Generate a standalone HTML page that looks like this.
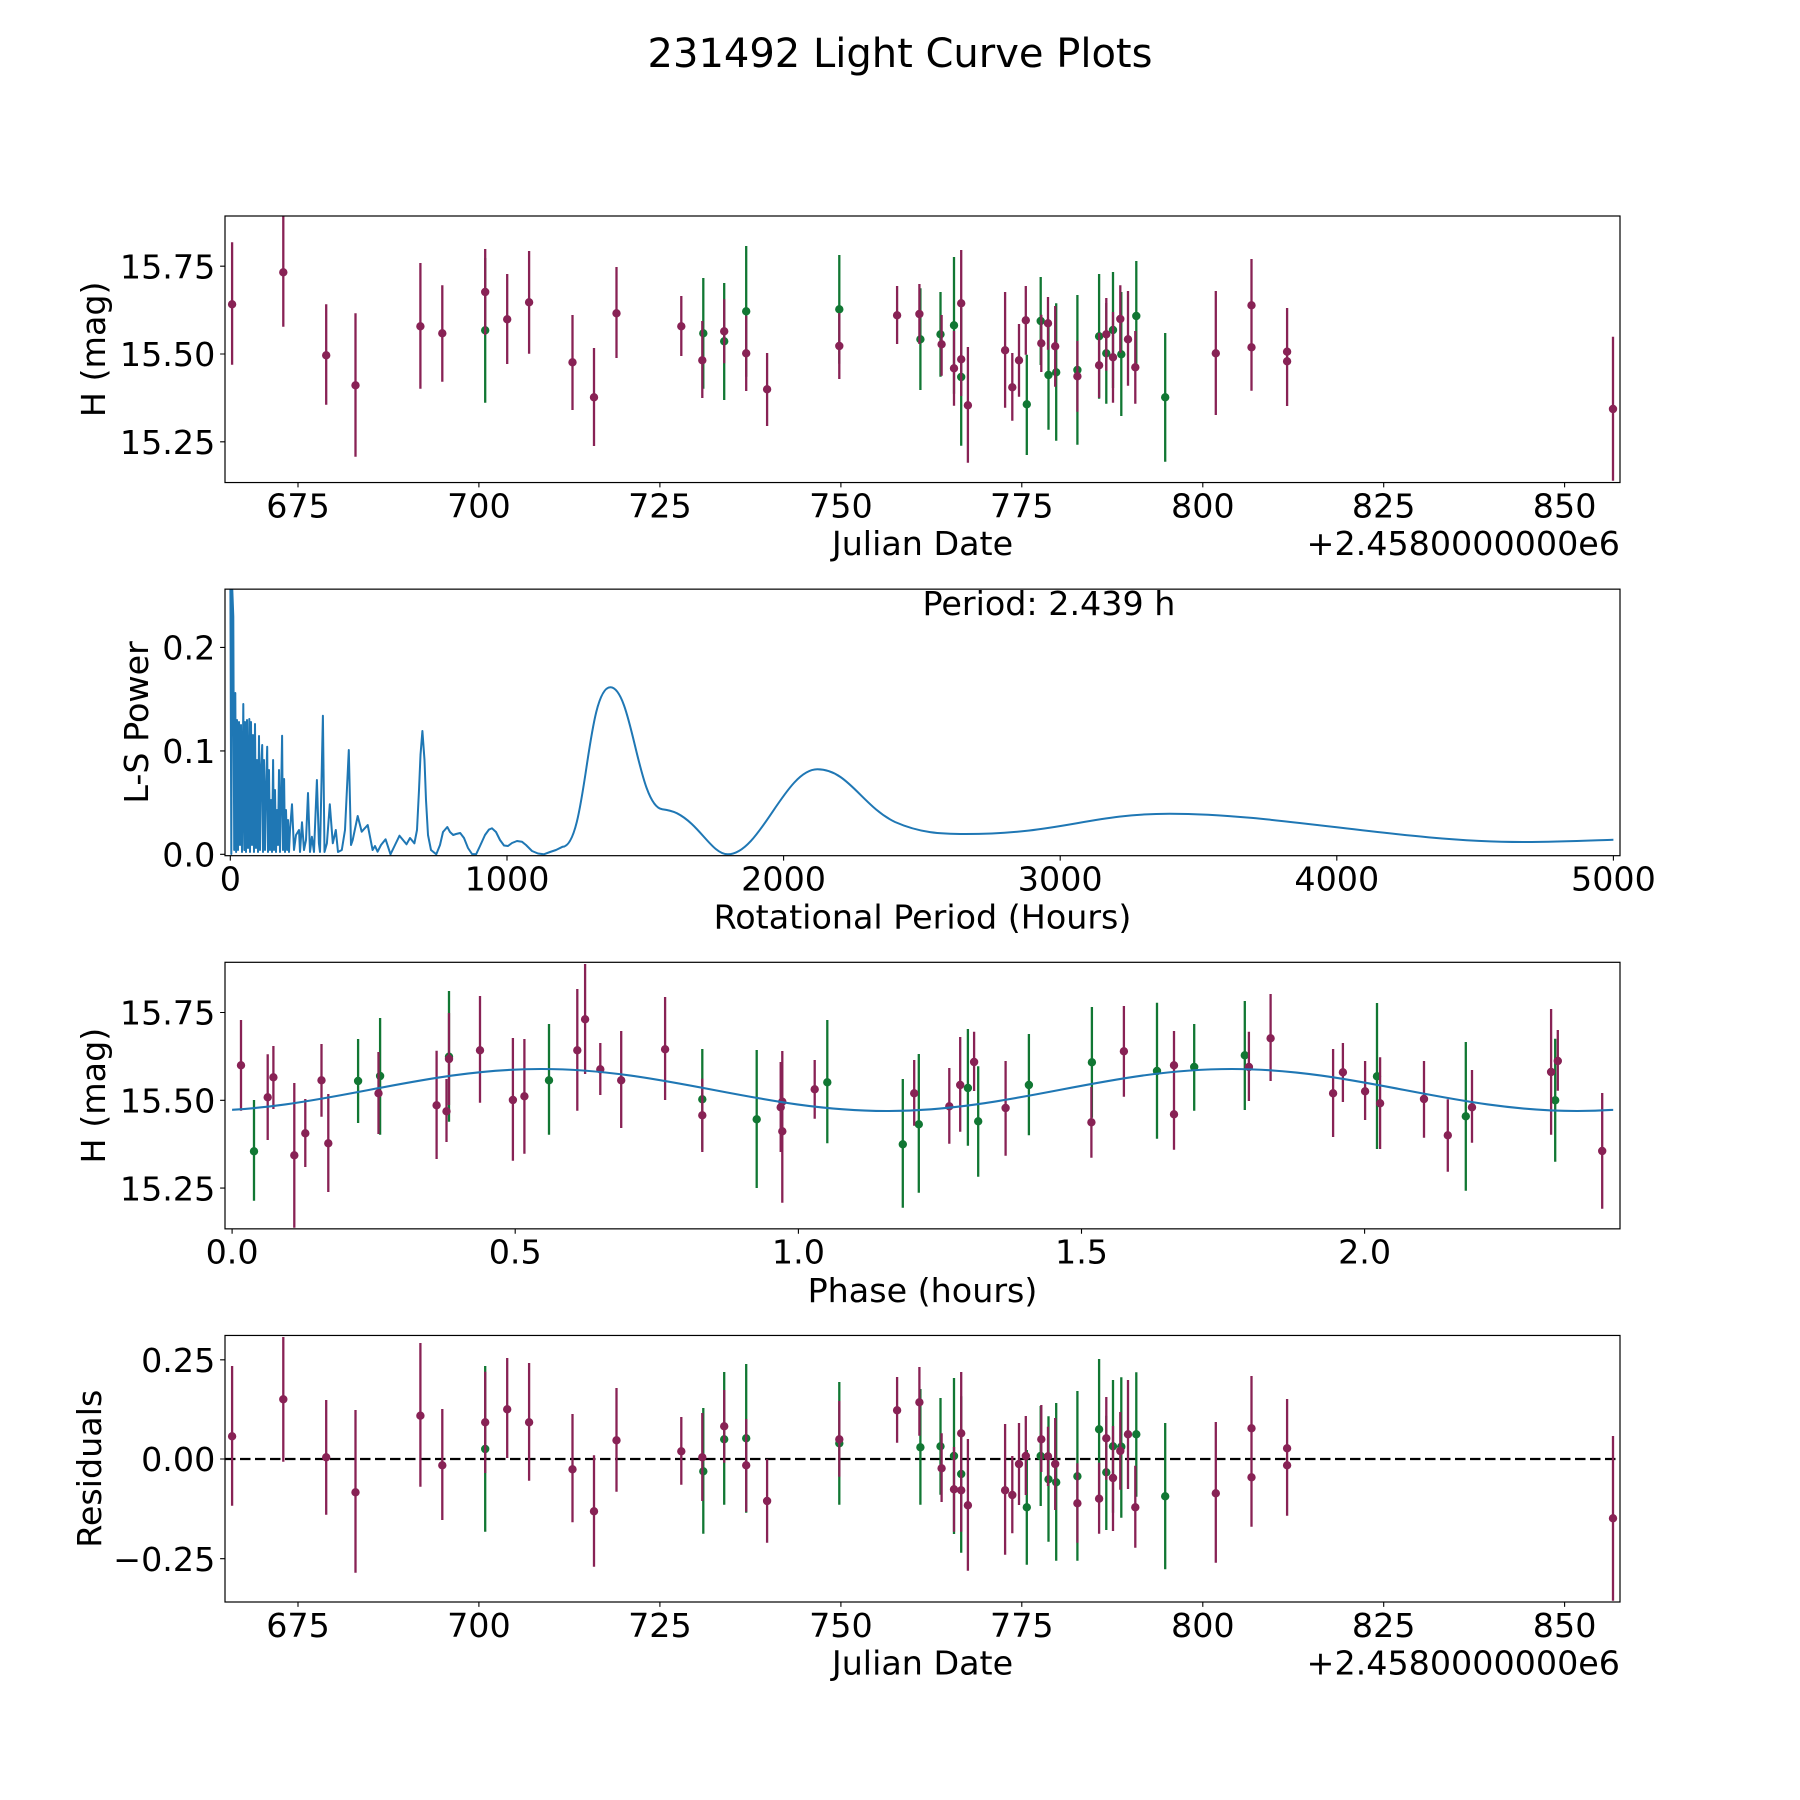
<!DOCTYPE html>
<html><head><meta charset="utf-8"><style>
html,body{margin:0;padding:0;background:#fff;}
svg{display:block;}
text{font-family:"DejaVu Sans","Liberation Sans",sans-serif;fill:#000;}
</style></head><body>
<svg xmlns="http://www.w3.org/2000/svg" width="1800" height="1800" viewBox="0 0 1800 1800">
<defs>
<clipPath id="c1"><rect x="225" y="216" width="1395" height="266.54"/></clipPath>
<clipPath id="c2"><rect x="225" y="589.15" width="1395" height="266.54"/></clipPath>
<clipPath id="c3"><rect x="225" y="962.3" width="1395" height="266.55"/></clipPath>
<clipPath id="c3s"><rect x="232.1" y="962.3" width="1381.1" height="266.55"/></clipPath>
<clipPath id="c4"><rect x="225" y="1335.46" width="1395" height="266.54"/></clipPath>
</defs>
<rect width="1800" height="1800" fill="#fff"/>
<text x="900" y="67" font-size="40" text-anchor="middle">231492 Light Curve Plots</text>

<!-- ============ AXES 1 ============ -->
<g clip-path="url(#c1)">
<path fill="none" stroke="#117733" stroke-width="2.3" d="M485.2,258V402.7M703.3,278V388.7M724.2,283V400M746.2,246V376.7M839.3,255V363.7M920.4,288.3V390M940.5,292V376.7M954,257V393.7M961.2,308V445.7M1026.8,354.7V455M1040.7,277V365M1048.5,320.3V429.7M1056.2,303.3V440.7M1077.4,295V444.7M1099.1,274V398.7M1106.3,303V403.7M1113,272V388M1121.3,292V416M1136.3,261V371M1165.2,333V461.7"/>
<path fill="none" stroke="#117733" stroke-width="8.4" stroke-linecap="round" d="M485.2,330.3h0M703.3,333.3h0M724.2,341.3h0M746.2,311.3h0M839.3,309.3h0M920.4,339.3h0M940.5,334.3h0M954,325.3h0M961.2,377h0M1026.8,404.3h0M1040.7,321h0M1048.5,375h0M1056.2,372.3h0M1077.4,370h0M1099.1,336.3h0M1106.3,353.3h0M1113,330h0M1121.3,354.3h0M1136.3,316h0M1165.2,397.3h0"/>
<path fill="none" stroke="#882255" stroke-width="2.3" d="M232.1,242.3V364.7M283.3,210V326.7M326.2,304.3V404.7M355.5,313.3V456.7M420.4,263V388.7M442.3,285.3V381.7M485.2,249V335M507.2,274V364M529.1,251V353.7M572.5,315V410M594,348V446M616.5,267V358M681.3,296V356M702.3,321V398M724.2,299.3V363.3M746.2,315.7V391M767.1,353V426M839.3,313V379M897.1,286V344M919.4,284V344M941.6,315V375.7M954,331V405.7M961.2,250V356.7M961.2,322V396M967.9,347V462.7M1005.1,292V407.7M1012.3,353V420.7M1019,324V396.7M1025.8,286V354.7M1041.3,314.7V372M1048,297V349.7M1055.2,306V386.7M1077.4,341V411.7M1099.1,333V397.7M1106.3,298V370.7M1113,312V402.7M1120.3,285.3V352.7M1128,291V385.7M1135.3,331V403.7M1215.8,291V415M1251.5,259V351.7M1251.5,304V390.7M1287.1,308V395.3M1287.1,316.7V406M1613,336.7V480.7"/>
<path fill="none" stroke="#882255" stroke-width="8.4" stroke-linecap="round" d="M232.1,304.3h0M283.3,272.3h0M326.2,355.3h0M355.5,385.3h0M420.4,326.3h0M442.3,333.3h0M485.2,292h0M507.2,319.3h0M529.1,302.3h0M572.5,362.3h0M594,397.3h0M616.5,313.3h0M681.3,326.3h0M702.3,360.3h0M724.2,331.3h0M746.2,353.3h0M767.1,389.3h0M839.3,346h0M897.1,315.3h0M919.4,314h0M941.6,344.3h0M954,368.3h0M961.2,303.3h0M961.2,359.3h0M967.9,405.3h0M1005.1,350.3h0M1012.3,387.3h0M1019,360.3h0M1025.8,320.3h0M1041.3,343.3h0M1048,323.3h0M1055.2,346.3h0M1077.4,376.3h0M1099.1,365.3h0M1106.3,334.3h0M1113,357.3h0M1120.3,319h0M1128,339.3h0M1135.3,367.3h0M1215.8,353.3h0M1251.5,305.3h0M1251.5,347.3h0M1287.1,351.7h0M1287.1,361.3h0M1613,409h0"/>
</g>
<path fill="none" stroke="#000" stroke-width="1.1" d="M298,482.5v4.9M478.9,482.5v4.9M659.9,482.5v4.9M840.9,482.5v4.9M1021.8,482.5v4.9M1202.8,482.5v4.9M1383.7,482.5v4.9M1564.6,482.5v4.9M225,266.2h-4.9M225,354h-4.9M225,441.8h-4.9"/>
<rect x="225" y="216" width="1395" height="266.54" fill="none" stroke="#000" stroke-width="1.2"/>
<g font-size="33.33" text-anchor="middle">
<text x="298" y="517.5">675</text><text x="478.9" y="517.5">700</text><text x="659.9" y="517.5">725</text><text x="840.9" y="517.5">750</text><text x="1021.8" y="517.5">775</text><text x="1202.8" y="517.5">800</text><text x="1383.7" y="517.5">825</text><text x="1564.6" y="517.5">850</text>
</g>
<g font-size="33.33" text-anchor="end">
<text x="215.3" y="278.4">15.75</text><text x="215.3" y="366.2">15.50</text><text x="215.3" y="454">15.25</text>
</g>
<text x="922.5" y="555" font-size="33.33" text-anchor="middle">Julian Date</text>
<text x="1620" y="555" font-size="33.33" text-anchor="end">+2.4580000000e6</text>
<text transform="translate(105,349.3) rotate(-90)" font-size="33.33" text-anchor="middle">H (mag)</text>

<!-- ============ AXES 2 ============ -->
<g clip-path="url(#c2)">
<path fill="none" stroke="#1f77b4" stroke-width="2" stroke-linejoin="round" d="M230.3,560L231.3,854L232.3,590L233.3,616.7L234.2,850L235.3,693L236.1,852L237,720L238,850L239,722L240,845L241,725L242,852L243.3,704L244.3,850L245,722L246,852L247,720L248,848L249.3,719L250,852L251,722L252,845L253,735L254,852L255,724L256,848L257,760L258,852L259,736L260,850L261,770L262.2,745L263,852L264,760L265,850L266,790L267.2,746.7L268,852L269,770L270,850L271,800L272,852L273.1,760L274,850L275,790L276,852L277,810L278,845L279,770L280,852L281,800L282.1,735.7L283,850L284.1,779L285,852L286,810L287.1,850L288,820L289,852L290,830L292,804.3L294,850L296,835L299,830L300,852L302,822.3L304,850L306,840L308,793L310,852L311.9,836.7L314,852L316.9,780L318.9,843.3L320,852L322.9,715.7L324.5,852L326.9,843.3L329.8,804.3L332.8,843.3L335.8,830L338,852L341.8,850L345,830L348.8,750L351,845L352.7,840L357.7,816L361.7,831.7L367.7,825L372.6,850L375,846L377.6,851.7L381,845L385.6,839.3L390.5,854.3L395,845L399.5,835.7L403,840L406.5,844.3L410,838L414.4,843.3L417,830L419,790L420.5,755L422.4,731L424.5,760L426,800L428,835L431,850L436.3,854.3L440,845L443,832L447.3,827L450,832L453.2,835L456,834L460.2,833L464,838L468,848L472,854L476.1,854.3L480,846L485,835L489,829.5L492,828.3L496,832L500,840L504,845.5L508,846L512,843L517,841L521.9,841.7L526,845L532,851L538,853.5L543.8,854.3L550,852L556,850L562.7,846.7C586.5,846.7 586.5,687.3 610.4,687.3C632,687.3 638,806 662.2,809.3C668,810 672,811 677.1,813.3C700,825 712,854.3 727.8,854.3C760,854.3 785,769.3 817.4,769.3C848,769.3 862,806 895,822C920,833 940,834 965.7,834C1060,834 1090,813.7 1169.6,813.7C1280,813.7 1400,842 1522.9,842C1560,842 1590,840.5 1613.4,839.7"/>
</g>
<path fill="none" stroke="#000" stroke-width="1.1" d="M230.3,855.7v4.9M507,855.7v4.9M783.6,855.7v4.9M1060.2,855.7v4.9M1336.8,855.7v4.9M1613.4,855.7v4.9M225,854.3h-4.9M225,750.9h-4.9M225,647.4h-4.9"/>
<rect x="225" y="589.15" width="1395" height="266.54" fill="none" stroke="#000" stroke-width="1.2"/>
<g font-size="33.33" text-anchor="middle">
<text x="230.3" y="890.7">0</text><text x="507" y="890.7">1000</text><text x="783.6" y="890.7">2000</text><text x="1060.2" y="890.7">3000</text><text x="1336.8" y="890.7">4000</text><text x="1613.4" y="890.7">5000</text>
</g>
<g font-size="33.33" text-anchor="end">
<text x="215.3" y="866.5">0.0</text><text x="215.3" y="763">0.1</text><text x="215.3" y="659.5">0.2</text>
</g>
<text x="922.5" y="615" font-size="33.33">Period: 2.439 h</text>
<text x="922.5" y="928.5" font-size="33.33" text-anchor="middle">Rotational Period (Hours)</text>
<text transform="translate(148,722.4) rotate(-90)" font-size="33.33" text-anchor="middle">L-S Power</text>

<!-- ============ AXES 3 ============ -->
<g clip-path="url(#c3)">
<path fill="none" stroke="#117733" stroke-width="2.3" d="M254,1100V1200.7M358.1,1039V1123M380.1,1018V1134.7M449,991V1121.7M549,1024V1134.7M702.3,1049V1149.7M756.7,1050V1188M827.3,1020V1143.3M902.8,1079V1207.7M918.8,1054V1192.7M967.9,1029V1145.7M978.2,1066.3V1176.7M1028.9,1034V1135.3M1091.9,1007V1117.7M1157,1002.7V1138.7M1194.2,1024V1110.7M1244.8,1001V1110M1377,1003V1149M1465.8,1042V1190.7M1555.2,1038.7V1161.7"/>
<path fill="none" stroke="#117733" stroke-width="8.4" stroke-linecap="round" d="M254,1151.3h0M358.1,1081h0M380.1,1076h0M449,1056.7h0M549,1080.3h0M702.3,1099.3h0M756.7,1119.3h0M827.3,1082.3h0M902.8,1144.3h0M918.8,1124.3h0M967.9,1088h0M978.2,1121.3h0M1028.9,1085h0M1091.9,1062.3h0M1157,1071h0M1194.2,1067h0M1244.8,1055.3h0M1377,1076.3h0M1465.8,1116.3h0M1555.2,1100.3h0"/>
<path fill="none" stroke="#882255" stroke-width="2.3" d="M241,1020V1110.7M267.7,1054.3V1140M273.4,1046V1109M294.3,1083V1227.7M305.3,1099V1167M321.5,1044V1116.7M328.3,1094V1192M378.5,1052V1134M436.6,1050.7V1159M446.5,1079V1142M449,1013V1105M480,996V1102.7M512.9,1038V1160.7M524.4,1039V1153.7M577.3,989V1110.7M585.1,964V1074M600.3,1043V1095M621.2,1031V1128M665.1,997V1100M702.3,1078.7V1152M780.7,1062V1152M782.3,1061V1142M782.3,1051V1202.7M814.7,1060V1118.7M914.2,1060V1125.7M949.3,1068V1143.7M960.2,1037V1131.7M974.1,1031.7V1091M1005.6,1061V1155.7M1091.4,1087V1157.7M1123.9,1006V1096.7M1174,1031V1099M1174,1077V1149.7M1248.9,1031.7V1101M1270.6,994V1081M1333.1,1049V1137M1342.9,1043V1102M1365.1,1061V1120M1380.1,1057.3V1149M1424,1061V1137.7M1447.8,1099.3V1171.7M1472,1070V1142.7M1551.1,1009V1134.7M1557.8,1030V1090.7M1602.2,1093V1208.7"/>
<path fill="none" stroke="#882255" stroke-width="8.4" stroke-linecap="round" d="M241,1065.3h0M267.7,1097.3h0M273.4,1077.3h0M294.3,1155.3h0M305.3,1133.3h0M321.5,1080.3h0M328.3,1143.3h0M378.5,1093.3h0M436.6,1105.3h0M446.5,1111.3h0M449,1059h0M480,1050.3h0M512.9,1100h0M524.4,1096.3h0M577.3,1050.3h0M585.1,1019.3h0M600.3,1069.3h0M621.2,1080.3h0M665.1,1049.3h0M702.3,1115.3h0M780.7,1107.3h0M782.3,1101.7h0M782.3,1131.3h0M814.7,1089.3h0M914.2,1093.3h0M949.3,1106.3h0M960.2,1085h0M974.1,1062h0M1005.6,1108h0M1091.4,1122.3h0M1123.9,1051.3h0M1174,1065.3h0M1174,1114.3h0M1248.9,1067h0M1270.6,1038.3h0M1333.1,1093.3h0M1342.9,1072.3h0M1365.1,1091.3h0M1380.1,1103.3h0M1424,1099h0M1447.8,1135.3h0M1472,1107.3h0M1551.1,1072h0M1557.8,1061h0M1602.2,1151h0"/>
</g>
<g clip-path="url(#c3s)">
<path fill="none" stroke="#1f77b4" stroke-width="2.1" d="M196,1111C321.8,1111 415.5,1069 541.3,1069C667.1,1069 760.8,1111 886.6,1111C1012.4,1111 1106.1,1069 1231.9,1069C1357.7,1069 1451.4,1111 1577.2,1111C1703,1111 1796.7,1069 1922.5,1069"/>
</g>
<path fill="none" stroke="#000" stroke-width="1.1" d="M232.1,1228.8v4.9M515.2,1228.8v4.9M798.4,1228.8v4.9M1081.5,1228.8v4.9M1364.6,1228.8v4.9M225,1012.5h-4.9M225,1100.3h-4.9M225,1188.1h-4.9"/>
<rect x="225" y="962.3" width="1395" height="266.55" fill="none" stroke="#000" stroke-width="1.2"/>
<g font-size="33.33" text-anchor="middle">
<text x="232.1" y="1263.6">0.0</text><text x="515.2" y="1263.6">0.5</text><text x="798.4" y="1263.6">1.0</text><text x="1081.5" y="1263.6">1.5</text><text x="1364.6" y="1263.6">2.0</text>
</g>
<g font-size="33.33" text-anchor="end">
<text x="215.3" y="1024.7">15.75</text><text x="215.3" y="1112.5">15.50</text><text x="215.3" y="1200.3">15.25</text>
</g>
<text x="922.5" y="1302" font-size="33.33" text-anchor="middle">Phase (hours)</text>
<text transform="translate(105,1095.6) rotate(-90)" font-size="33.33" text-anchor="middle">H (mag)</text>

<!-- ============ AXES 4 ============ -->
<g clip-path="url(#c4)">
<path fill="none" stroke="#000" stroke-width="2.2" stroke-dasharray="10.5,4.5" d="M225,1459H1620"/>
<path fill="none" stroke="#117733" stroke-width="2.3" d="M485.2,1366V1531.7M703.3,1408V1533.7M724.2,1372V1504.7M746.2,1364V1512.7M839.3,1382V1504.7M920.4,1389V1504.7M940.5,1398V1494.7M954,1378V1534M961.2,1396.3V1552.7M1026.8,1450V1564.7M1040.7,1406V1506M1048.5,1416.3V1541.7M1056.2,1403V1560.7M1077.4,1391V1560.7M1099.1,1359V1500M1106.3,1415.7V1530M1113,1380V1512.7M1121.3,1377.3V1517.7M1136.3,1372.3V1496.7M1165.2,1423V1569.3"/>
<path fill="none" stroke="#117733" stroke-width="8.4" stroke-linecap="round" d="M485.2,1449h0M703.3,1471.3h0M724.2,1439.3h0M746.2,1438.3h0M839.3,1443.3h0M920.4,1447.3h0M940.5,1446.3h0M954,1456h0M961.2,1474h0M1026.8,1507.3h0M1040.7,1456h0M1048.5,1479.3h0M1056.2,1482.3h0M1077.4,1476.3h0M1099.1,1429.3h0M1106.3,1472.3h0M1113,1446.3h0M1121.3,1446.7h0M1136.3,1434.3h0M1165.2,1496.3h0"/>
<path fill="none" stroke="#882255" stroke-width="2.3" d="M232.1,1366V1505.7M283.3,1337V1461.7M326.2,1400V1514.7M355.5,1410V1572.7M420.4,1343V1486.7M442.3,1409V1520M485.2,1371.7V1473M507.2,1358V1458M529.1,1363V1480.7M572.5,1414V1522.3M594,1455.3V1566.7M616.5,1388V1491.7M681.3,1417V1484.7M702.3,1413V1501M724.2,1390V1462.7M746.2,1419V1511.7M767.1,1459.3V1542.7M839.3,1401V1476.7M897.1,1377V1442.7M919.4,1367V1435.7M941.6,1433.3V1502M954,1447V1531.7M961.2,1372V1493.7M961.2,1449V1531.7M967.9,1439V1570.7M1005.1,1424V1554.7M1012.3,1456V1533.3M1019,1423V1505M1025.8,1416V1495M1041.3,1405V1472M1048,1426.7V1486M1055.2,1418V1510M1077.4,1463.3V1542.7M1099.1,1462.7V1533.7M1106.3,1397V1479.7M1113,1426V1531M1120.3,1412V1489.7M1128,1380V1489M1135.3,1465.7V1547.7M1215.8,1422V1562.7M1251.5,1376V1480.7M1251.5,1428V1526.7M1287.1,1399V1497.7M1287.1,1415V1515.7M1613,1436V1600.7"/>
<path fill="none" stroke="#882255" stroke-width="8.4" stroke-linecap="round" d="M232.1,1436.3h0M283.3,1399.3h0M326.2,1457.3h0M355.5,1492.3h0M420.4,1415.7h0M442.3,1465.3h0M485.2,1422.3h0M507.2,1409.3h0M529.1,1422.3h0M572.5,1469.3h0M594,1511.3h0M616.5,1440.3h0M681.3,1451.3h0M702.3,1457.3h0M724.2,1426.3h0M746.2,1465.3h0M767.1,1501h0M839.3,1439.3h0M897.1,1410.3h0M919.4,1402.3h0M941.6,1468.3h0M954,1489.3h0M961.2,1433.3h0M961.2,1490.3h0M967.9,1505.3h0M1005.1,1490.3h0M1012.3,1495h0M1019,1464h0M1025.8,1456h0M1041.3,1439.3h0M1048,1456.3h0M1055.2,1464h0M1077.4,1503.3h0M1099.1,1498.7h0M1106.3,1438.3h0M1113,1478h0M1120.3,1451h0M1128,1434.3h0M1135.3,1507.3h0M1215.8,1493.3h0M1251.5,1428.3h0M1251.5,1477.3h0M1287.1,1448.3h0M1287.1,1465.3h0M1613,1518.3h0"/>
</g>
<path fill="none" stroke="#000" stroke-width="1.1" d="M298,1602v4.9M478.9,1602v4.9M659.9,1602v4.9M840.9,1602v4.9M1021.8,1602v4.9M1202.8,1602v4.9M1383.7,1602v4.9M1564.6,1602v4.9M225,1359.8h-4.9M225,1459h-4.9M225,1558.7h-4.9"/>
<rect x="225" y="1335.46" width="1395" height="266.54" fill="none" stroke="#000" stroke-width="1.2"/>
<g font-size="33.33" text-anchor="middle">
<text x="298" y="1637">675</text><text x="478.9" y="1637">700</text><text x="659.9" y="1637">725</text><text x="840.9" y="1637">750</text><text x="1021.8" y="1637">775</text><text x="1202.8" y="1637">800</text><text x="1383.7" y="1637">825</text><text x="1564.6" y="1637">850</text>
</g>
<g font-size="33.33" text-anchor="end">
<text x="215.3" y="1372">0.25</text><text x="215.3" y="1471.2">0.00</text><text x="215.3" y="1570.9">−0.25</text>
</g>
<text x="922.5" y="1674.5" font-size="33.33" text-anchor="middle">Julian Date</text>
<text x="1620" y="1674.5" font-size="33.33" text-anchor="end">+2.4580000000e6</text>
<text transform="translate(101,1468.7) rotate(-90)" font-size="33.33" text-anchor="middle">Residuals</text>
</svg>
</body></html>
